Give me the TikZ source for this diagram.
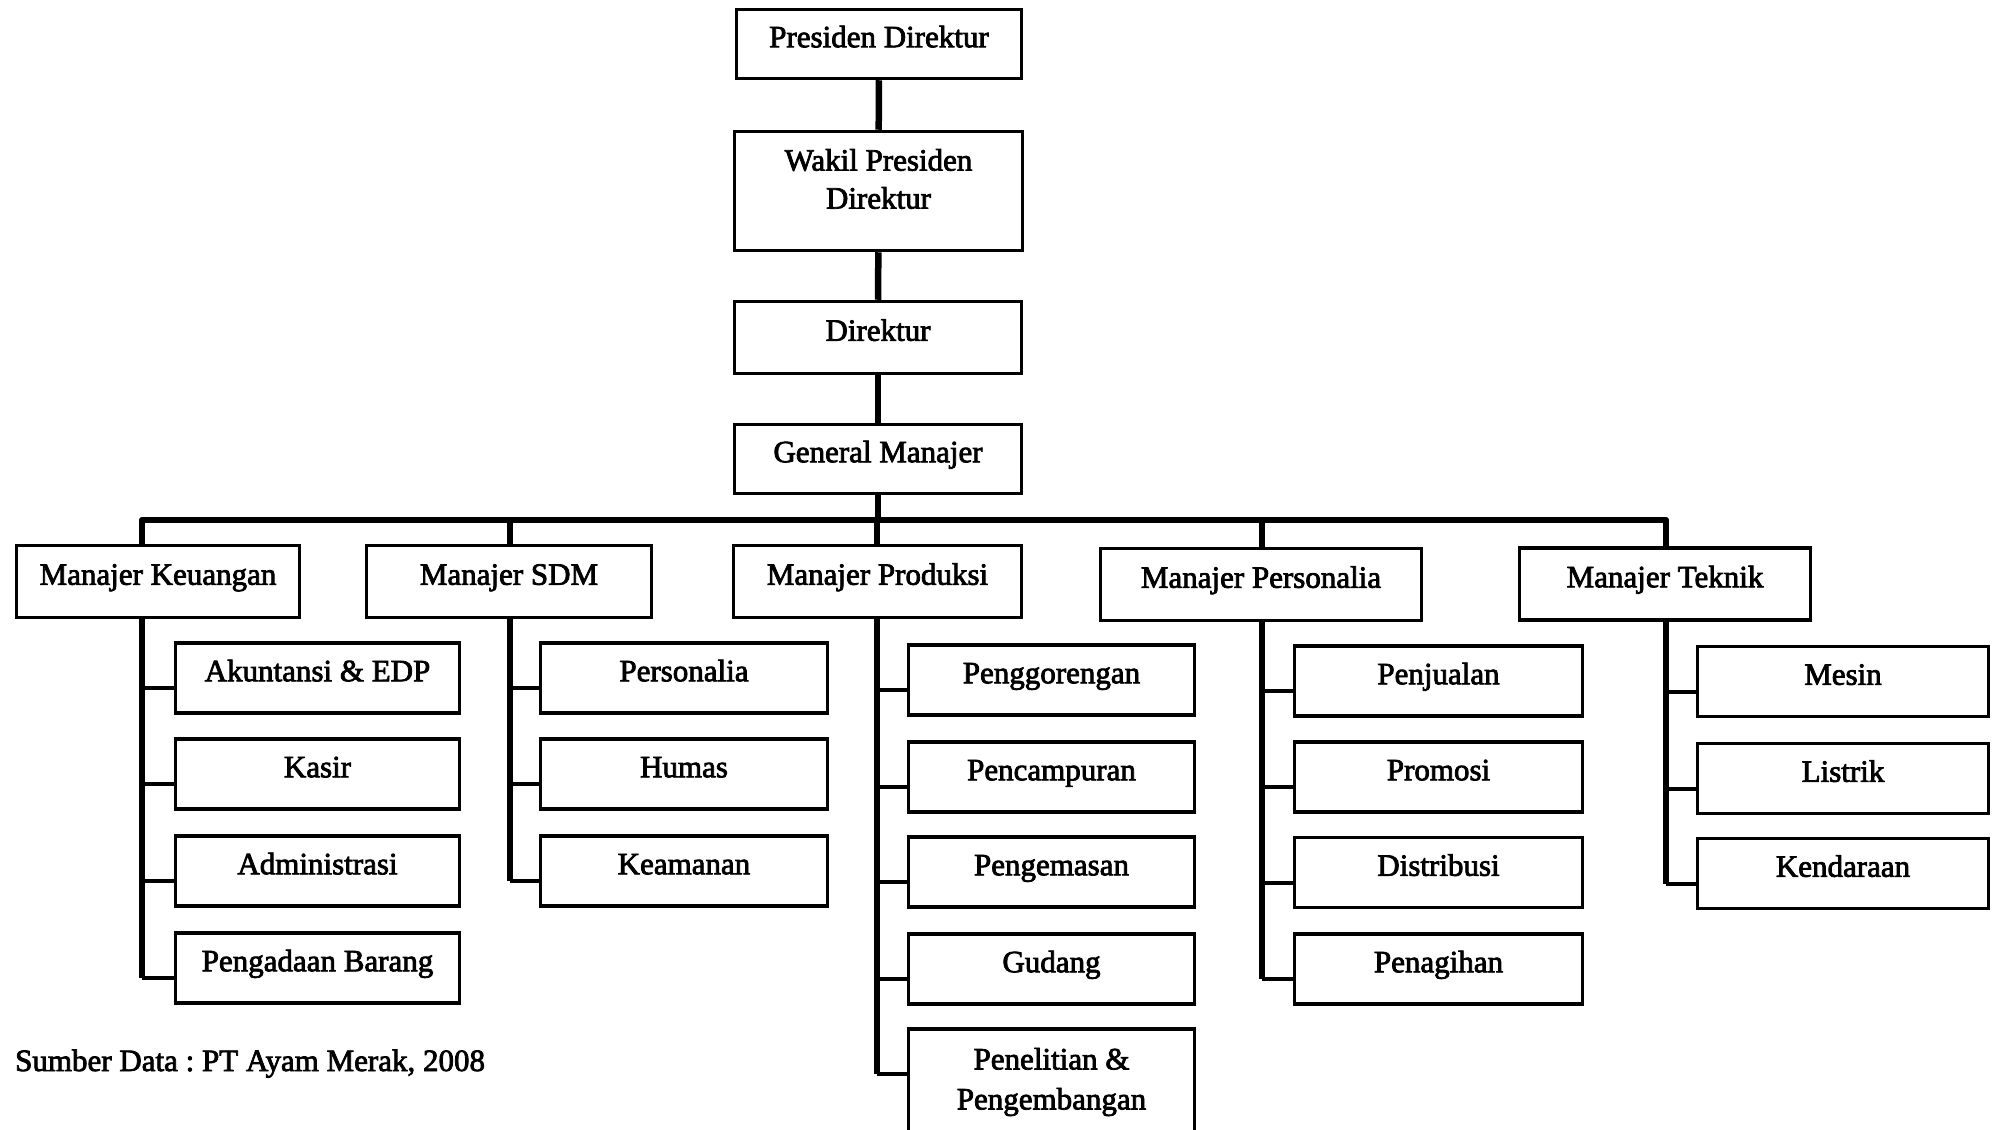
\documentclass[tikz,border=0pt]{standalone}
\usepackage{fontspec}
\setmainfont{Liberation Serif}[FakeBold=2.5]
\usetikzlibrary{calc,backgrounds}
\frenchspacing
\begin{document}
\begin{tikzpicture}[x=1pt,y=-1pt,
  box/.style={draw, line width=3.5pt, fill=white, inner sep=0pt,
    font=\fontsize{31}{38}\selectfont, text height=22pt, text depth=15.5pt},
  emptybox/.style={draw, line width=3.5pt, fill=white, inner sep=0pt},
  txt/.style={inner sep=0pt, align=center, font=\fontsize{31}{38}\selectfont},
  conn/.style={line width=6.5pt, line join=round, line cap=butt},
  stub/.style={line width=4pt},
  mgr/.style={box, minimum height=72},
  kid/.style={box, minimum height=70}]
\useasboundingbox (0,0) rectangle (1993,1129);

% top chain
\node[box, minimum width=285, minimum height=69] (pres) at (879,44) {Presiden Direktur};
\node[emptybox, minimum width=288, minimum height=119] (wakil) at (878.5,191) {};
\node[txt] (wakilT) at (878.5,179) {Wakil Presiden\\Direktur};
\node[box, minimum width=287, minimum height=72] (dir) at (878,337.5) {Direktur};
\node[box, minimum width=287, minimum height=69] (gm) at (878,459) {General Manajer};

% managers
\node[mgr, minimum width=283] (keu) at (158,581.5) {Manajer Keuangan};
\node[mgr, minimum width=285] (sdm) at (509,581.5) {Manajer SDM};
\node[mgr, minimum width=288] (prod) at (877.5,581.5) {Manajer Produksi};
\node[mgr, minimum width=321] (pers) at (1261,584.5) {Manajer Personalia};
\node[mgr, minimum width=291] (tek) at (1665,584) {Manajer Teknik};

% keuangan children
\node[kid, minimum width=284] (k1) at (317.5,678) {Akuntansi \& EDP};
\node[kid, minimum width=284] (k2) at (317.5,774) {Kasir};
\node[kid, minimum width=284] (k3) at (317.5,871) {Administrasi};
\node[kid, minimum width=284] (k4) at (317.5,968) {Pengadaan Barang};

% sdm children
\node[kid, minimum width=287] (s1) at (684,678) {Personalia};
\node[kid, minimum width=287] (s2) at (684,774) {Humas};
\node[kid, minimum width=287] (s3) at (684,871) {Keamanan};

% produksi children
\node[kid, minimum width=286] (p1) at (1051.5,680) {Penggorengan};
\node[kid, minimum width=286] (p2) at (1051.5,777) {Pencampuran};
\node[kid, minimum width=286] (p3) at (1051.5,872) {Pengemasan};
\node[kid, minimum width=286] (p4) at (1051.5,969) {Gudang};
\node[emptybox, minimum width=286, minimum height=120] (p5) at (1051.5,1089) {};
\node[txt, font=\fontsize{31}{40}\selectfont] (p5T) at (1051.5,1082) {Penelitian \&\\Pengembangan};

% personalia children
\node[kid, minimum width=288] (r1) at (1438.5,681) {Penjualan};
\node[kid, minimum width=288] (r2) at (1438.5,777) {Promosi};
\node[kid, minimum width=288] (r3) at (1438.5,872.5) {Distribusi};
\node[kid, minimum width=288] (r4) at (1438.5,969) {Penagihan};

% teknik children
\node[kid, minimum width=291] (t1) at (1843,681.5) {Mesin};
\node[kid, minimum width=291] (t2) at (1843,778.5) {Listrik};
\node[kid, minimum width=291] (t3) at (1843,873.5) {Kendaraan};

\node[anchor=base west, inner sep=0pt, font=\fontsize{31}{38}\selectfont] (src) at (15,1071) {Sumber Data : PT Ayam Merak, 2008};

% stem coordinates on the bus
\coordinate (kS) at (142,520);
\coordinate (sS) at (510,520);
\coordinate (pS) at (877,520);
\coordinate (rS) at (1262,520);
\coordinate (tS) at (1666,520);

\begin{scope}[on background layer]
  \draw[conn] (pres) -- (wakil);
  \draw[conn] (wakil) -- (dir);
  \draw[conn] (dir) -- (gm);
  \draw[conn] (gm.south) -- (gm.south |- kS);
  \draw[conn] (kS |- keu.north) -- (kS) -- (tS) -- (tS |- tek.north);
  \draw[conn] (sS) -- (sS |- sdm.north);
  \draw[conn] (pS) -- (pS |- prod.north);
  \draw[conn] (rS) -- (rS |- pers.north);
  % branch stubs
  \foreach \x/\kids in {kS/{k1,k2,k3,k4}, sS/{s1,s2,s3}, pS/{p1,p2,p3,p4,p5}, rS/{r1,r2,r3,r4}, tS/{t1,t2,t3}}{
    \foreach \c in \kids {
      \coordinate (\c a) at ($(\c.north west)+(0,47)$);
      \draw[stub] (\x |- \c a) -- (\c a);
    }
  }
  \draw[conn] (kS |- keu.south) -- (kS |- k4a);
  \draw[conn] (sS |- sdm.south) -- (sS |- s3a);
  \draw[conn] (pS |- prod.south) -- (pS |- p5a);
  \draw[conn] (rS |- pers.south) -- (rS |- r4a);
  \draw[conn] (tS |- tek.south) -- (tS |- t3a);
\end{scope}
\end{tikzpicture}
\end{document}
